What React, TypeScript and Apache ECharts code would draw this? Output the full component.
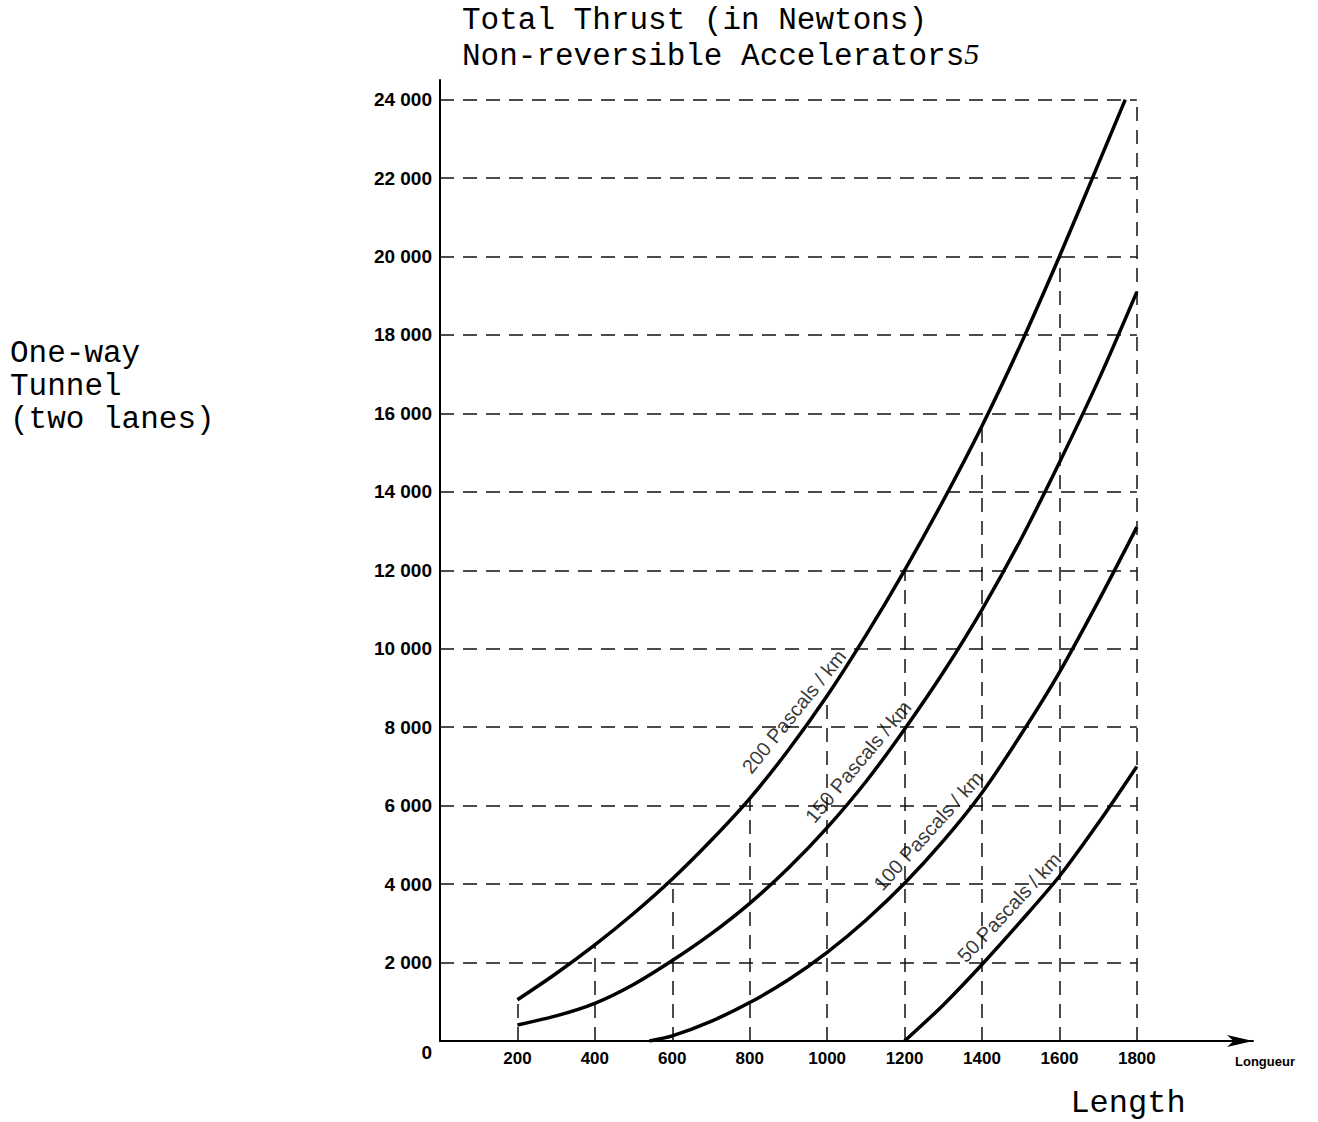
import React, { useEffect, useRef } from "react";
import * as echarts from "echarts";

// Curves: length (m) vs total thrust (N)
const len200 = [200, 300, 400, 500, 600, 700, 800, 900, 1000, 1100, 1200, 1300, 1400, 1500, 1600, 1700, 1770];
const thrust200 = [1050, 1720, 2450, 3250, 4130, 5110, 6180, 7420, 8800, 10340, 12000, 13780, 15680, 17760, 20000, 22350, 24000];
const len150 = [200, 300, 400, 500, 600, 700, 800, 900, 1000, 1100, 1200, 1300, 1400, 1500, 1600, 1700, 1800];
const thrust150 = [410, 640, 960, 1440, 2050, 2730, 3510, 4410, 5440, 6610, 7950, 9400, 11000, 12780, 14750, 16830, 19100];
const len100 = [541, 600, 700, 800, 900, 1000, 1100, 1200, 1300, 1400, 1500, 1600, 1700, 1800];
const thrust100 = [0, 130, 500, 980, 1560, 2260, 3080, 4020, 5100, 6330, 7800, 9400, 11200, 13100];
const len50 = [1200, 1300, 1400, 1500, 1600, 1700, 1800];
const thrust50 = [0, 920, 1950, 3050, 4200, 5550, 7000];

// Dashed horizontal grid values and vertical drop lines (up to the 200 Pa/km curve)
const gridValues = [2000, 4000, 6000, 8000, 10000, 12000, 14000, 16000, 18000, 20000, 22000, 24000];
const gridEndX = 1800;
const dropX = [200, 400, 600, 800, 1000, 1200, 1400, 1600, 1800];
const dropTop = [1050, 2450, 4130, 6180, 8800, 12000, 15680, 20000, 24000];

// Curve labels
const curveLabels = ["200 Pascals / km", "150 Pascals / km", "100 Pascals / km", "50 Pascals / km"];
const labelX = [914, 1080, 1261, 1470];
const labelY = [8400, 7120, 5360, 3405];
const labelAngle = [51, 50, 48, 47];

const pairs = (xs: number[], ys: number[]) => xs.map((x, i) => [x, ys[i]]);

export default function App() {
  const ref = useRef<HTMLDivElement>(null);
  useEffect(() => {
    if (!ref.current) return;
    const chart = echarts.init(ref.current, null, { renderer: "svg" });
    const mono = "'Liberation Mono', 'DejaVu Sans Mono', monospace";
    const sans = "'Liberation Sans', Arial, sans-serif";
    const curveStyle = { color: "#000", width: 3.5 };
    const dashStyle = { color: "#111", width: 1.5, type: [14, 9] as any };

    const curve = (name: string, xs: number[], ys: number[]) => ({
      type: "line",
      name,
      data: pairs(xs, ys),
      smooth: 0.3,
      showSymbol: false,
      lineStyle: curveStyle,
      silent: true,
      z: 5,
    });

    chart.setOption({
      animation: false,
      backgroundColor: "#fff",
      grid: { left: 440, right: 65, top: 80, bottom: 81, containLabel: false },
      xAxis: {
        type: "value",
        min: 0,
        max: 2100,
        interval: 200,
        name: "Longueur",
        nameLocation: "end",
        nameGap: 12,
        nameTextStyle: {
          fontFamily: sans,
          fontWeight: "bold",
          fontSize: 13,
          color: "#000",
          align: "center",
          verticalAlign: "top",
          padding: [14, 0, 0, 0],
        },
        axisLine: {
          show: true,
          lineStyle: { color: "#000", width: 2 },
          symbol: ["none", "arrow"],
          symbolSize: [9, 26],
        },
        axisTick: { show: false },
        splitLine: { show: false },
        axisLabel: {
          margin: 9,
          fontFamily: sans,
          fontWeight: "bold",
          fontSize: 17,
          color: "#000",
          formatter: (v: number) => (v === 0 || v > 1800 || v % 200 !== 0 ? "" : String(v)),
        },
      },
      yAxis: {
        type: "value",
        min: 0,
        max: 24500,
        interval: 2000,
        axisLine: { show: true, lineStyle: { color: "#000", width: 2 } },
        axisTick: { show: false },
        splitLine: { show: false },
        axisLabel: {
          margin: 8,
          fontFamily: sans,
          fontWeight: "bold",
          fontSize: 19,
          color: "#000",
          formatter: (v: number) => {
            if (v % 2000 !== 0) return "";
            if (v === 0) return "{z|0}";
            return `${Math.floor(v / 1000)} 000`;
          },
          rich: {
            z: { fontFamily: sans, fontWeight: "bold", fontSize: 19, color: "#000", padding: [22, 0, 0, 0] },
          },
        },
      },
      series: [
        {
          type: "line",
          data: [],
          silent: true,
          markLine: {
            silent: true,
            symbol: "none",
            label: { show: false },
            lineStyle: dashStyle,
            data: [
              ...gridValues.map((y) => [{ coord: [0, y] }, { coord: [gridEndX, y] }]),
              ...dropX.map((x, i) => [{ coord: [x, 0] }, { coord: [x, dropTop[i]] }]),
            ],
          },
        },
        curve("200", len200, thrust200),
        curve("150", len150, thrust150),
        curve("100", len100, thrust100),
        curve("50", len50, thrust50),
        {
          type: "scatter",
          symbolSize: 0,
          silent: true,
          z: 6,
          data: curveLabels.map((t, i) => ({
            name: t,
            value: [labelX[i], labelY[i]],
            label: { rotate: labelAngle[i] },
          })),
          label: {
            show: true,
            position: "inside",
            formatter: (p: any) => p.name,
            fontFamily: sans,
            fontWeight: "normal",
            fontSize: 20,
            color: "#000",
            textBorderWidth: 0,
          },
        },
      ],
      graphic: [
        {
          type: "text",
          left: 462,
          top: 5,
          style: {
            text: "Total Thrust (in Newtons)",
            fontFamily: mono,
            fontSize: 31,
            fill: "#000",
          },
        },
        {
          type: "text",
          left: 462,
          top: 38,
          style: {
            text: "Non-reversible Accelerators{s|5}",
            fontFamily: mono,
            fontSize: 31,
            fill: "#000",
            rich: {
              s: { fontFamily: "'Liberation Serif', serif", fontStyle: "italic", fontSize: 30, fill: "#000", padding: [0, 0, 6, 0] },
            },
          },
        },
        {
          type: "text",
          left: 10,
          top: 338,
          style: { text: "One-way", fontFamily: mono, fontSize: 31, fill: "#000" },
        },
        {
          type: "text",
          left: 10,
          top: 371,
          style: { text: "Tunnel", fontFamily: mono, fontSize: 31, fill: "#000" },
        },
        {
          type: "text",
          left: 10,
          top: 404,
          style: { text: "(two lanes)", fontFamily: mono, fontSize: 31, fill: "#000" },
        },
        {
          type: "text",
          x: 1128,
          y: 1103,
          style: {
            text: "Length",
            fontFamily: mono,
            fontSize: 32,
            fill: "#000",
            align: "center",
            verticalAlign: "middle",
          },
        },
      ],
    });
    return () => chart.dispose();
  }, []);
  return (
    <div
      ref={ref}
      style={{ position: "fixed", left: 0, top: 0, width: 1318, height: 1122, background: "#fff" }}
    />
  );
}
